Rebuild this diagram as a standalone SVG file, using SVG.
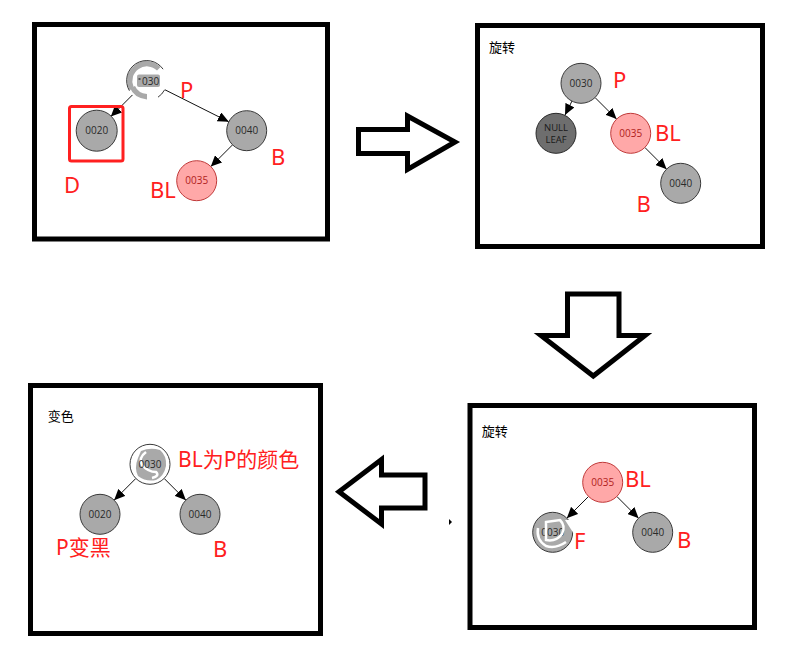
<svg xmlns="http://www.w3.org/2000/svg" width="792" height="668" viewBox="0 0 792 668">
<style>
.panel{fill:#fff;stroke:#000;stroke-width:5}
.bigarrow{fill:#fff;stroke:#000;stroke-width:5;stroke-linejoin:miter}
.n{fill:#a9a9a9;stroke:#3a3a3a;stroke-width:1}
.r{fill:#ffa8a8;stroke:#c03a3a;stroke-width:1}
.nl{fill:#6e6e6e;stroke:#2a2a2a;stroke-width:1}
.t{font-family:"Open Sans","DejaVu Sans",sans-serif;font-size:10px;fill:#2a2a2a;text-anchor:middle}
.tr{font-family:"Open Sans","DejaVu Sans",sans-serif;font-size:10px;fill:#b02020;text-anchor:middle}
.lab{font-family:"Noto Sans","Noto Sans CJK SC",sans-serif;font-size:22px;fill:#ff2020}
.title{font-family:"Noto Sans CJK SC",sans-serif;font-size:13px;fill:#000}
.e{stroke:#111;stroke-width:1;fill:none;marker-end:url(#ah)}
.er{fill:#fff;stroke:none}
</style>
<defs>
<marker id="ah" markerUnits="userSpaceOnUse" markerWidth="11" markerHeight="10" refX="11" refY="5" orient="auto">
<path d="M0,0 L11,5 L0,10 Z" fill="#000"/>
</marker>
</defs>
<rect width="792" height="668" fill="#fff"/>

<!-- panels -->
<rect class="panel" x="34.5" y="24.5" width="293" height="214.5"/>
<rect class="panel" x="477.5" y="25.5" width="285" height="221"/>
<rect class="panel" x="30.5" y="385.5" width="290" height="248"/>
<rect class="panel" x="470" y="405.5" width="284.5" height="222"/>

<!-- big arrows -->
<g id="arrow-right"><polygon class="bigarrow" points="358.5,129.5 407.5,129.5 407.5,116 455,142 407.5,169.5 407.5,153.5 358.5,153.5"/></g>
<g id="arrow-down"><polygon class="bigarrow" points="567.5,294 619,294 619,335.5 645,335.5 593.3,376 541,335.5 567.5,335.5"/></g>
<g id="arrow-left"><polygon class="bigarrow" points="425,475 381.5,475 381.5,459.5 339,491.7 381.5,524 381.5,508 425,508"/></g>
<path d="M449,519 L452,522 L449,525 Z" fill="#000"/>

<!-- connectors -->
<g id="connectors">
<line class="e" x1="132.6" y1="94.8" x2="110.8" y2="116.6"/>
<line class="e" x1="164.6" y1="89.6" x2="228.8" y2="121.8"/>
<line class="e" x1="232.6" y1="144.8" x2="210.8" y2="166.6"/>
<line class="e" x1="572" y1="101" x2="565" y2="115"/>
<line class="e" x1="595" y1="97.5" x2="616.6" y2="119.1"/>
<line class="e" x1="644.8" y1="147.4" x2="666.6" y2="169.2"/>
<line class="e" x1="135.9" y1="478.4" x2="114.1" y2="500.2"/>
<line class="e" x1="164.1" y1="478.4" x2="185.9" y2="500.2"/>
<line class="e" x1="588.6" y1="496.4" x2="566.8" y2="518.2"/>
<line class="e" x1="616.8" y1="496.4" x2="638.6" y2="518.2"/>
</g>

<!-- Panel 1 -->
<g id="p1-0030">
<circle cx="146.7" cy="80.7" r="20" fill="#fff"/>
<path d="M129.8,90.45 A19.5,19.5 0 0 1 160.5,66.9 L157,70.5 A14.5,14.5 0 0 0 133.5,86.5 Z" fill="#a9a9a9"/>
<path d="M130,88 Q134,98 147,99.5 L147,94 Q138,93 135,86 Z" fill="#a9a9a9"/>
<rect x="137" y="74.5" width="23" height="12.5" rx="2" fill="#a9a9a9"/>
<path d="M129.4,90.7 A20,20 0 0 1 163.1,69.2" fill="none" stroke="#3a3a3a"/>
<path d="M164.5,90 A20,20 0 0 1 158,97.2" fill="none" stroke="#3a3a3a"/>
<rect x="138.5" y="78" width="2" height="2" fill="#555"/>
<text class="t" x="150.7" y="84.5">030</text>
</g>
<g id="p1-0020"><circle class="n" cx="96.7" cy="130.7" r="20.5"/><text class="t" x="96.7" y="134.3">0020</text></g>
<rect x="69.5" y="106.5" width="53.5" height="54.5" rx="2" fill="none" stroke="#ff2020" stroke-width="3"/>
<g id="p1-0040"><circle class="n" cx="246.7" cy="130.7" r="20"/><text class="t" x="246.7" y="134.3">0040</text></g>
<g id="p1-0035"><circle class="r" cx="196.7" cy="180.7" r="20"/><text class="tr" x="196.7" y="184.3">0035</text></g>
<text class="lab" x="180" y="97.7">P</text>
<text class="lab" x="271" y="165">B</text>
<text class="lab" x="64" y="193.3">D</text>
<text class="lab" x="150" y="197.7">BL</text>

<!-- Panel 2 -->
<text class="title" x="489" y="52">旋转</text>
<g id="p2-0030"><circle class="n" cx="581" cy="83.3" r="20"/><text class="t" x="581" y="86.9">0030</text></g>
<g id="p2-null"><circle class="nl" cx="556" cy="133.3" r="20"/><text class="t" x="556" y="130.5" style="font-size:9.5px;fill:#1a1a1a">NULL</text><text class="t" x="556" y="142.8" style="font-size:9.5px;fill:#1a1a1a">LEAF</text></g>
<g id="p2-0035"><circle class="r" cx="630.7" cy="133.3" r="20"/><text class="tr" x="630.7" y="136.9">0035</text></g>
<g id="p2-0040"><circle class="n" cx="680.7" cy="183.3" r="20"/><text class="t" x="680.7" y="186.9">0040</text></g>
<text class="lab" x="613" y="88.3">P</text>
<text class="lab" x="655" y="140.7">BL</text>
<text class="lab" x="636.5" y="211.7">B</text>

<!-- Panel 3 -->
<text class="title" x="47.7" y="421">变色</text>
<g id="p3-0030">
<circle cx="150" cy="464.3" r="20" fill="#fff" stroke="#3a3a3a"/>
<path d="M141,451 Q150,447 160,450 Q167,456 166,466 Q164,476 156,480 Q146,482 138,476 Q134,468 138,458 Z" fill="#a9a9a9"/>
<path d="M146,452 Q138,458 142,465 Q148,472 156,472 Q160,476 152,478" fill="none" stroke="#fff" stroke-width="2.5"/>
<text class="t" x="150" y="467.9">0030</text>
</g>
<g id="p3-0020"><circle class="n" cx="100" cy="514.3" r="20"/><text class="t" x="100" y="517.9">0020</text></g>
<g id="p3-0040"><circle class="n" cx="200" cy="514.3" r="20"/><text class="t" x="200" y="517.9">0040</text></g>
<text class="lab" x="178" y="467.3" style="font-size:21px">BL为P的颜色</text>
<text class="lab" x="56" y="555" style="font-size:21px">P变黑</text>
<text class="lab" x="213" y="556.7">B</text>

<!-- Panel 4 -->
<text class="title" x="481.7" y="436">旋转</text>
<g id="p4-0035"><circle class="r" cx="602.7" cy="482.3" r="20"/><text class="tr" x="602.7" y="485.9">0035</text></g>
<g id="p4-0030">
<circle class="n" cx="552.7" cy="532.3" r="20"/>
<text class="t" x="552.7" y="535.9">0030</text>
<path d="M546,522 L560,520 Q566,526 562,534 Q556,542 546,540 Z" fill="none" stroke="#fff" stroke-width="2.5"/>
<path d="M538,528 Q536,540 546,546 Q556,549 566,542" fill="none" stroke="#fff" stroke-width="2.5"/>
<path d="M565,520 L574,520 L574,534 Z" fill="#fff"/>
</g>
<g id="p4-0040"><circle class="n" cx="652.7" cy="532.3" r="20"/><text class="t" x="652.7" y="535.9">0040</text></g>
<text class="lab" x="625" y="487.3">BL</text>
<text class="lab" x="574" y="549">F</text>
<text class="lab" x="677" y="548.3">B</text>
</svg>
